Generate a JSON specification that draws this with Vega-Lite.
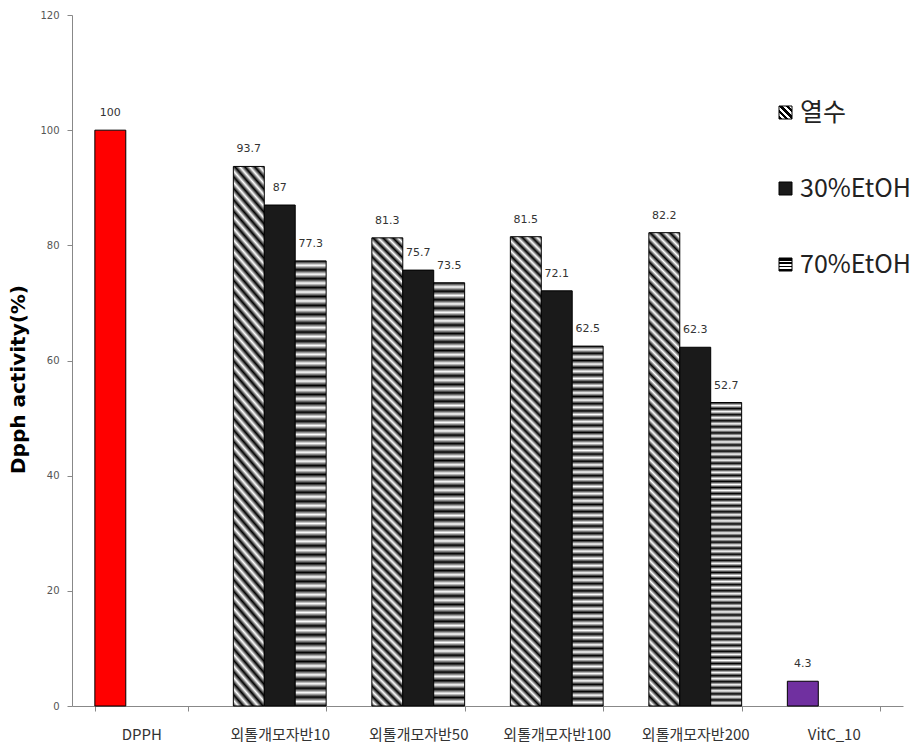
{
  "$schema": "https://vega.github.io/schema/vega-lite/v6.json",
  "width": 831,
  "height": 691,
  "autosize": {"type": "none"},
  "padding": {"left": 72, "top": 15, "right": 8, "bottom": 43},
  "background": "#ffffff",
  "config": {"view": {"stroke": null}, "font": "Noto Sans CJK KR"},
  "data": {
    "values": [
      {"g": "DPPH", "s": "열수", "k": "DPPH", "v": 100},
      {"g": "외톨개모자반10", "s": "열수", "k": "열수", "v": 93.7},
      {"g": "외톨개모자반10", "s": "30%EtOH", "k": "30%EtOH", "v": 87},
      {"g": "외톨개모자반10", "s": "70%EtOH", "k": "70%EtOH", "v": 77.3},
      {"g": "외톨개모자반50", "s": "열수", "k": "열수", "v": 81.3},
      {"g": "외톨개모자반50", "s": "30%EtOH", "k": "30%EtOH", "v": 75.7},
      {"g": "외톨개모자반50", "s": "70%EtOH", "k": "70%EtOH", "v": 73.5},
      {"g": "외톨개모자반100", "s": "열수", "k": "열수", "v": 81.5},
      {"g": "외톨개모자반100", "s": "30%EtOH", "k": "30%EtOH", "v": 72.1},
      {"g": "외톨개모자반100", "s": "70%EtOH", "k": "70%EtOH", "v": 62.5},
      {"g": "외톨개모자반200", "s": "열수", "k": "열수", "v": 82.2},
      {"g": "외톨개모자반200", "s": "30%EtOH", "k": "30%EtOH", "v": 62.3},
      {"g": "외톨개모자반200", "s": "70%EtOH", "k": "70%EtOH", "v": 52.7},
      {"g": "VitC_10", "s": "열수", "k": "VitC", "v": 4.3}
    ]
  },
  "encoding": {
    "x": {
      "field": "g",
      "type": "nominal",
      "sort": ["DPPH", "외톨개모자반10", "외톨개모자반50", "외톨개모자반100", "외톨개모자반200", "VitC_10"],
      "scale": {"paddingInner": 0.33, "paddingOuter": 0.165},
      "axis": {
        "title": null,
        "labelAngle": 0,
        "tickBand": "extent",
        "domainColor": "#888888",
        "tickColor": "#888888",
        "tickSize": 5,
        "labelFontSize": 15,
        "labelColor": "#333333",
        "labelPadding": 16
      }
    },
    "xOffset": {
      "field": "s",
      "type": "nominal",
      "scale": {"domain": ["열수", "30%EtOH", "70%EtOH"], "paddingInner": 0, "paddingOuter": 0}
    },
    "y": {
      "field": "v",
      "type": "quantitative",
      "scale": {"domain": [0, 120]},
      "axis": {
        "title": "Dpph activity(%)",
        "values": [0, 20, 40, 60, 80, 100, 120],
        "grid": false,
        "domainColor": "#888888",
        "tickColor": "#888888",
        "tickSize": 5,
        "labelFont": "DejaVu Sans",
        "labelFontSize": 10,
        "labelColor": "#555555",
        "labelPadding": 8,
        "titleFont": "DejaVu Sans",
        "titleFontSize": 20,
        "titleFontWeight": "bold",
        "titleColor": "#000000",
        "titleX": -44,
        "titleY": 364,
        "titleAlign": "center"
      }
    }
  },
  "layer": [
    {
      "mark": {"type": "bar", "stroke": "#000000", "strokeWidth": 1},
      "encoding": {
        "fill": {
          "field": "k",
          "type": "nominal",
          "scale": {
            "domain": ["열수", "30%EtOH", "70%EtOH", "DPPH", "VitC"],
            "range": [
              {"expr": "{gradient: 'linear', x1: 0, y1: 1, x2: 1, y2: 0, stops: [{offset: 0, color: '#000'}, {offset: 0.12, color: '#000'}, {offset: 0.12, color: '#fff'}, {offset: 0.25, color: '#fff'}, {offset: 0.25, color: '#000'}, {offset: 0.37, color: '#000'}, {offset: 0.37, color: '#fff'}, {offset: 0.5, color: '#fff'}, {offset: 0.5, color: '#000'}, {offset: 0.62, color: '#000'}, {offset: 0.62, color: '#fff'}, {offset: 0.75, color: '#fff'}, {offset: 0.75, color: '#000'}, {offset: 0.87, color: '#000'}, {offset: 0.87, color: '#fff'}, {offset: 1, color: '#fff'}]}"},
              "#1a1a1a",
              {"expr": "{gradient: 'linear', x1: 0, y1: 0, x2: 0, y2: 1, stops: [{offset: 0, color: '#000'}, {offset: 0.2, color: '#000'}, {offset: 0.2, color: '#fff'}, {offset: 0.33, color: '#fff'}, {offset: 0.33, color: '#000'}, {offset: 0.47, color: '#000'}, {offset: 0.47, color: '#fff'}, {offset: 0.6, color: '#fff'}, {offset: 0.6, color: '#000'}, {offset: 0.73, color: '#000'}, {offset: 0.73, color: '#fff'}, {offset: 0.86, color: '#fff'}, {offset: 0.86, color: '#000'}, {offset: 1, color: '#000'}]}"},
              "#ff0000",
              "#7030a0"
            ]
          },
          "condition": [
            {
              "test": "datum.k === '열수'",
              "value": {
                "gradient": "linear", "x1": 0, "y1": 1, "x2": 0.0708, "y2": -0.062,
                "stops": [
                  {"offset": 0, "color": "#000"}, {"offset": 0.01, "color": "#fff"}, {"offset": 0.02, "color": "#000"}, {"offset": 0.03, "color": "#fff"}, {"offset": 0.04, "color": "#000"}, {"offset": 0.05, "color": "#fff"}, {"offset": 0.06, "color": "#000"}, {"offset": 0.07, "color": "#fff"}, {"offset": 0.08, "color": "#000"}, {"offset": 0.09, "color": "#fff"},
                  {"offset": 0.1, "color": "#000"}, {"offset": 0.11, "color": "#fff"}, {"offset": 0.12, "color": "#000"}, {"offset": 0.13, "color": "#fff"}, {"offset": 0.14, "color": "#000"}, {"offset": 0.15, "color": "#fff"}, {"offset": 0.16, "color": "#000"}, {"offset": 0.17, "color": "#fff"}, {"offset": 0.18, "color": "#000"}, {"offset": 0.19, "color": "#fff"},
                  {"offset": 0.2, "color": "#000"}, {"offset": 0.21, "color": "#fff"}, {"offset": 0.22, "color": "#000"}, {"offset": 0.23, "color": "#fff"}, {"offset": 0.24, "color": "#000"}, {"offset": 0.25, "color": "#fff"}, {"offset": 0.26, "color": "#000"}, {"offset": 0.27, "color": "#fff"}, {"offset": 0.28, "color": "#000"}, {"offset": 0.29, "color": "#fff"},
                  {"offset": 0.3, "color": "#000"}, {"offset": 0.31, "color": "#fff"}, {"offset": 0.32, "color": "#000"}, {"offset": 0.33, "color": "#fff"}, {"offset": 0.34, "color": "#000"}, {"offset": 0.35, "color": "#fff"}, {"offset": 0.36, "color": "#000"}, {"offset": 0.37, "color": "#fff"}, {"offset": 0.38, "color": "#000"}, {"offset": 0.39, "color": "#fff"},
                  {"offset": 0.4, "color": "#000"}, {"offset": 0.41, "color": "#fff"}, {"offset": 0.42, "color": "#000"}, {"offset": 0.43, "color": "#fff"}, {"offset": 0.44, "color": "#000"}, {"offset": 0.45, "color": "#fff"}, {"offset": 0.46, "color": "#000"}, {"offset": 0.47, "color": "#fff"}, {"offset": 0.48, "color": "#000"}, {"offset": 0.49, "color": "#fff"},
                  {"offset": 0.5, "color": "#000"}, {"offset": 0.51, "color": "#fff"}, {"offset": 0.52, "color": "#000"}, {"offset": 0.53, "color": "#fff"}, {"offset": 0.54, "color": "#000"}, {"offset": 0.55, "color": "#fff"}, {"offset": 0.56, "color": "#000"}, {"offset": 0.57, "color": "#fff"}, {"offset": 0.58, "color": "#000"}, {"offset": 0.59, "color": "#fff"},
                  {"offset": 0.6, "color": "#000"}, {"offset": 0.61, "color": "#fff"}, {"offset": 0.62, "color": "#000"}, {"offset": 0.63, "color": "#fff"}, {"offset": 0.64, "color": "#000"}, {"offset": 0.65, "color": "#fff"}, {"offset": 0.66, "color": "#000"}, {"offset": 0.67, "color": "#fff"}, {"offset": 0.68, "color": "#000"}, {"offset": 0.69, "color": "#fff"},
                  {"offset": 0.7, "color": "#000"}, {"offset": 0.71, "color": "#fff"}, {"offset": 0.72, "color": "#000"}, {"offset": 0.73, "color": "#fff"}, {"offset": 0.74, "color": "#000"}, {"offset": 0.75, "color": "#fff"}, {"offset": 0.76, "color": "#000"}, {"offset": 0.77, "color": "#fff"}, {"offset": 0.78, "color": "#000"}, {"offset": 0.79, "color": "#fff"},
                  {"offset": 0.8, "color": "#000"}, {"offset": 0.81, "color": "#fff"}, {"offset": 0.82, "color": "#000"}, {"offset": 0.83, "color": "#fff"}, {"offset": 0.84, "color": "#000"}, {"offset": 0.85, "color": "#fff"}, {"offset": 0.86, "color": "#000"}, {"offset": 0.87, "color": "#fff"}, {"offset": 0.88, "color": "#000"}, {"offset": 0.89, "color": "#fff"},
                  {"offset": 0.9, "color": "#000"}, {"offset": 0.91, "color": "#fff"}, {"offset": 0.92, "color": "#000"}, {"offset": 0.93, "color": "#fff"}, {"offset": 0.94, "color": "#000"}, {"offset": 0.95, "color": "#fff"}, {"offset": 0.96, "color": "#000"}, {"offset": 0.97, "color": "#fff"}, {"offset": 0.98, "color": "#000"}, {"offset": 0.99, "color": "#fff"},
                  {"offset": 1, "color": "#000"}
                ]
              }
            },
            {
              "test": "datum.k === '70%EtOH'",
              "value": {
                "gradient": "linear", "x1": 0, "y1": 0, "x2": 0, "y2": 1,
                "stops": [
                  {"offset": 0, "color": "#000"}, {"offset": 0.01, "color": "#fff"}, {"offset": 0.02, "color": "#000"}, {"offset": 0.03, "color": "#fff"}, {"offset": 0.04, "color": "#000"}, {"offset": 0.05, "color": "#fff"}, {"offset": 0.06, "color": "#000"}, {"offset": 0.07, "color": "#fff"}, {"offset": 0.08, "color": "#000"}, {"offset": 0.09, "color": "#fff"},
                  {"offset": 0.1, "color": "#000"}, {"offset": 0.11, "color": "#fff"}, {"offset": 0.12, "color": "#000"}, {"offset": 0.13, "color": "#fff"}, {"offset": 0.14, "color": "#000"}, {"offset": 0.15, "color": "#fff"}, {"offset": 0.16, "color": "#000"}, {"offset": 0.17, "color": "#fff"}, {"offset": 0.18, "color": "#000"}, {"offset": 0.19, "color": "#fff"},
                  {"offset": 0.2, "color": "#000"}, {"offset": 0.21, "color": "#fff"}, {"offset": 0.22, "color": "#000"}, {"offset": 0.23, "color": "#fff"}, {"offset": 0.24, "color": "#000"}, {"offset": 0.25, "color": "#fff"}, {"offset": 0.26, "color": "#000"}, {"offset": 0.27, "color": "#fff"}, {"offset": 0.28, "color": "#000"}, {"offset": 0.29, "color": "#fff"},
                  {"offset": 0.3, "color": "#000"}, {"offset": 0.31, "color": "#fff"}, {"offset": 0.32, "color": "#000"}, {"offset": 0.33, "color": "#fff"}, {"offset": 0.34, "color": "#000"}, {"offset": 0.35, "color": "#fff"}, {"offset": 0.36, "color": "#000"}, {"offset": 0.37, "color": "#fff"}, {"offset": 0.38, "color": "#000"}, {"offset": 0.39, "color": "#fff"},
                  {"offset": 0.4, "color": "#000"}, {"offset": 0.41, "color": "#fff"}, {"offset": 0.42, "color": "#000"}, {"offset": 0.43, "color": "#fff"}, {"offset": 0.44, "color": "#000"}, {"offset": 0.45, "color": "#fff"}, {"offset": 0.46, "color": "#000"}, {"offset": 0.47, "color": "#fff"}, {"offset": 0.48, "color": "#000"}, {"offset": 0.49, "color": "#fff"},
                  {"offset": 0.5, "color": "#000"}, {"offset": 0.51, "color": "#fff"}, {"offset": 0.52, "color": "#000"}, {"offset": 0.53, "color": "#fff"}, {"offset": 0.54, "color": "#000"}, {"offset": 0.55, "color": "#fff"}, {"offset": 0.56, "color": "#000"}, {"offset": 0.57, "color": "#fff"}, {"offset": 0.58, "color": "#000"}, {"offset": 0.59, "color": "#fff"},
                  {"offset": 0.6, "color": "#000"}, {"offset": 0.61, "color": "#fff"}, {"offset": 0.62, "color": "#000"}, {"offset": 0.63, "color": "#fff"}, {"offset": 0.64, "color": "#000"}, {"offset": 0.65, "color": "#fff"}, {"offset": 0.66, "color": "#000"}, {"offset": 0.67, "color": "#fff"}, {"offset": 0.68, "color": "#000"}, {"offset": 0.69, "color": "#fff"},
                  {"offset": 0.7, "color": "#000"}, {"offset": 0.71, "color": "#fff"}, {"offset": 0.72, "color": "#000"}, {"offset": 0.73, "color": "#fff"}, {"offset": 0.74, "color": "#000"}, {"offset": 0.75, "color": "#fff"}, {"offset": 0.76, "color": "#000"}, {"offset": 0.77, "color": "#fff"}, {"offset": 0.78, "color": "#000"}, {"offset": 0.79, "color": "#fff"},
                  {"offset": 0.8, "color": "#000"}, {"offset": 0.81, "color": "#fff"}, {"offset": 0.82, "color": "#000"}, {"offset": 0.83, "color": "#fff"}, {"offset": 0.84, "color": "#000"}, {"offset": 0.85, "color": "#fff"}, {"offset": 0.86, "color": "#000"}, {"offset": 0.87, "color": "#fff"}, {"offset": 0.88, "color": "#000"}, {"offset": 0.89, "color": "#fff"},
                  {"offset": 0.9, "color": "#000"}, {"offset": 0.91, "color": "#fff"}, {"offset": 0.92, "color": "#000"}, {"offset": 0.93, "color": "#fff"}, {"offset": 0.94, "color": "#000"}, {"offset": 0.95, "color": "#fff"}, {"offset": 0.96, "color": "#000"}, {"offset": 0.97, "color": "#fff"}, {"offset": 0.98, "color": "#000"}, {"offset": 0.99, "color": "#fff"},
                  {"offset": 1, "color": "#000"}
                ]
              }
            }
          ],
          "legend": {
            "title": null,
            "values": ["열수", "30%EtOH", "70%EtOH"],
            "orient": "none",
            "legendX": 701,
            "legendY": 85,
            "symbolType": "square",
            "symbolSize": 169,
            "symbolStrokeColor": "#000000",
            "symbolStrokeWidth": 1,
            "labelFont": "Noto Sans CJK KR",
            "labelFontSize": 25,
            "labelColor": "#222222",
            "labelOffset": 2,
            "labelLimit": 400,
            "rowPadding": 50
          }
        }
      }
    },
    {
      "mark": {"type": "text", "dy": -17, "fontSize": 11, "color": "#333333", "font": "DejaVu Sans"},
      "encoding": {
        "text": {"field": "v", "type": "quantitative", "format": "~g"}
      }
    }
  ]
}
